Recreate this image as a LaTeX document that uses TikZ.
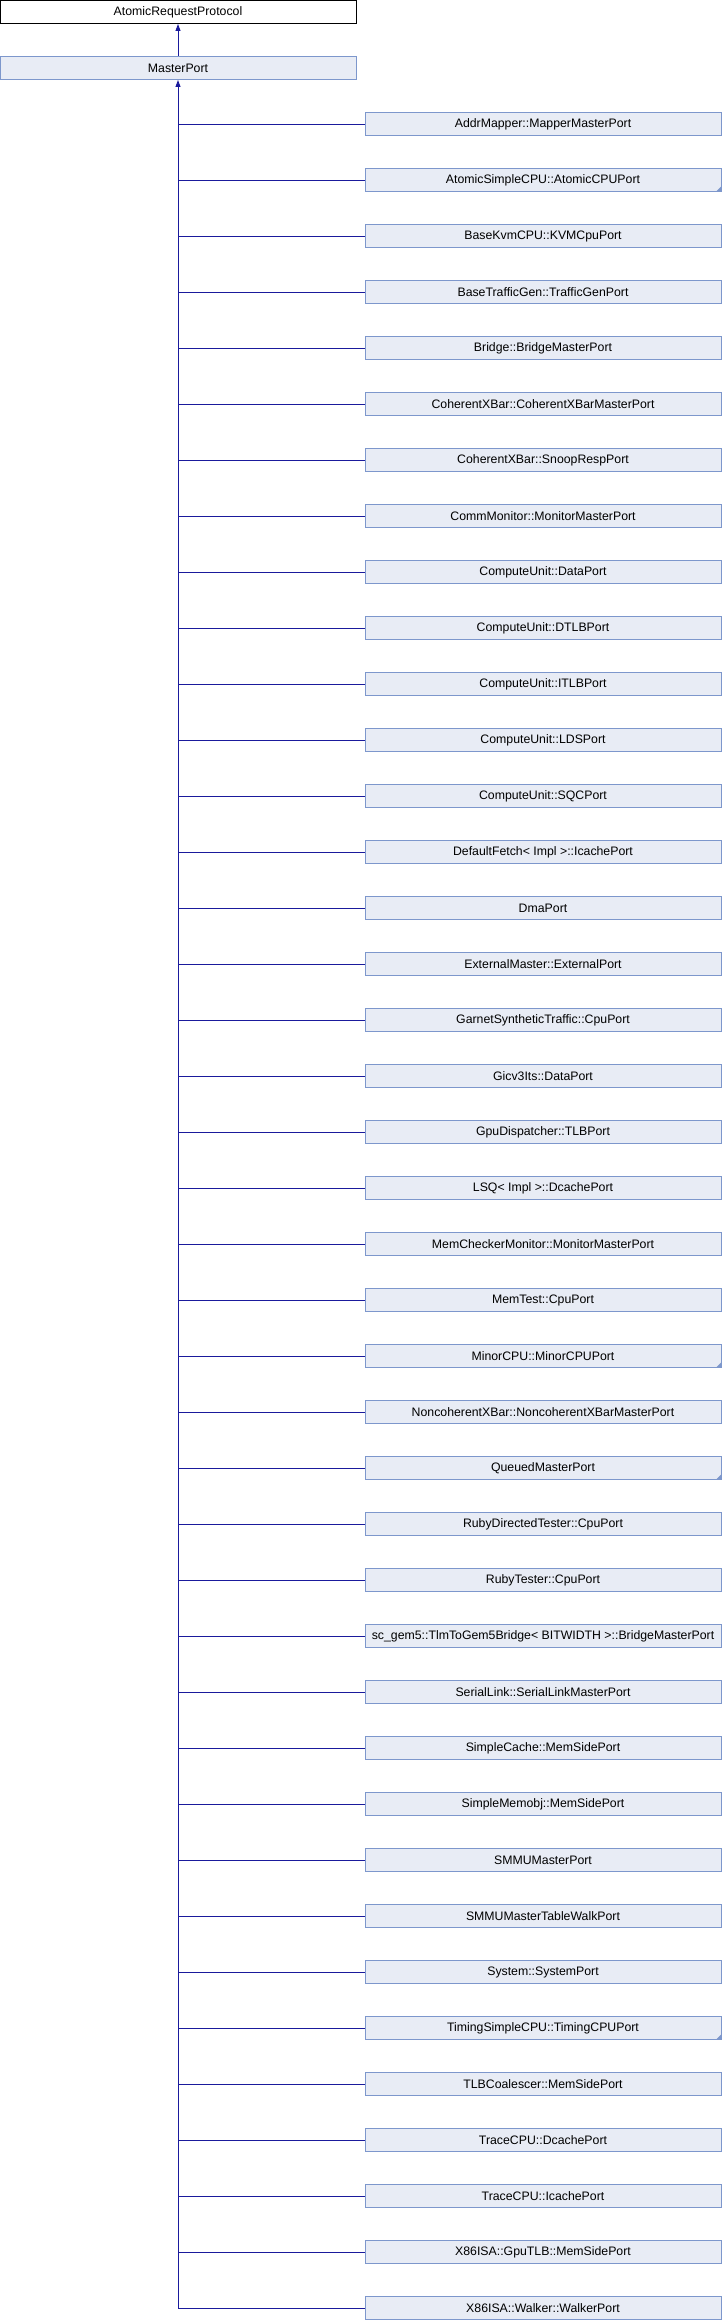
\documentclass[tikz,border=0pt]{standalone}
\usepackage{fontspec}
\setmainfont{Liberation Sans}
\usepackage{xcolor}
\usetikzlibrary{arrows.meta}

\definecolor{boxfill}{HTML}{E8ECF5}
\definecolor{boxline}{HTML}{7D97CC}
\definecolor{edgeblue}{HTML}{1A1A9C}

\begin{document}
\begin{tikzpicture}[
  x=1pt, y=1pt,
  box/.style={
    draw=boxline, fill=boxfill, line width=1pt, rectangle,
    minimum width=356pt, minimum height=23pt,
    font=\fontsize{12.3}{14}\selectfont, inner sep=0pt
  },
  topbox/.style={box, draw=black, fill=white},
  more/.style={box, path picture={
    \fill[boxline] (path picture bounding box.south east)
      -- ++(-5pt,0) -- ++(5pt,5pt) -- cycle;}},
  arr/.style={-{Triangle[width=5pt,length=7pt]}, edgeblue, line width=0.9pt},
  lnk/.style={edgeblue, line width=0.9pt},
]
\useasboundingbox (0,0) rectangle (722,-2320);

\node[topbox] (arp)   at (178, -12) {AtomicRequestProtocol};
\node[box]    (mport) at (178, -68) {MasterPort};

\node[box]  (addr)   at (543, -124) {AddrMapper::MapperMasterPort};
\node[more] (atomic) at (543, -180) {AtomicSimpleCPU::AtomicCPUPort};
\node[box]  (kvm)    at (543, -236) {BaseKvmCPU::KVMCpuPort};
\node[box]  (tgen)   at (543, -292) {BaseTrafficGen::TrafficGenPort};
\node[box]  (bridge) at (543, -348) {Bridge::BridgeMasterPort};
\node[box]  (cxbm)   at (543, -404) {CoherentXBar::CoherentXBarMasterPort};
\node[box]  (snoop)  at (543, -460) {CoherentXBar::SnoopRespPort};
\node[box]  (cmon)   at (543, -516) {CommMonitor::MonitorMasterPort};
\node[box]  (cudata) at (543, -572) {ComputeUnit::DataPort};
\node[box]  (cudtlb) at (543, -628) {ComputeUnit::DTLBPort};
\node[box]  (cuitlb) at (543, -684) {ComputeUnit::ITLBPort};
\node[box]  (culds)  at (543, -740) {ComputeUnit::LDSPort};
\node[box]  (cusqc)  at (543, -796) {ComputeUnit::SQCPort};
\node[box]  (fetch)  at (543, -852) {DefaultFetch< Impl >::IcachePort};
\node[box]  (dma)    at (543, -908) {DmaPort};
\node[box]  (ext)    at (543, -964) {ExternalMaster::ExternalPort};
\node[box]  (garnet) at (543, -1020) {GarnetSyntheticTraffic::CpuPort};
\node[box]  (gicits) at (543, -1076) {Gicv3Its::DataPort};
\node[box]  (gpud)   at (543, -1132) {GpuDispatcher::TLBPort};
\node[box]  (lsq)    at (543, -1188) {LSQ< Impl >::DcachePort};
\node[box]  (mcmon)  at (543, -1244) {MemCheckerMonitor::MonitorMasterPort};
\node[box]  (memtst) at (543, -1300) {MemTest::CpuPort};
\node[more] (minor)  at (543, -1356) {MinorCPU::MinorCPUPort};
\node[box]  (ncxbm)  at (543, -1412) {NoncoherentXBar::NoncoherentXBarMasterPort};
\node[more] (queued) at (543, -1468) {QueuedMasterPort};
\node[box]  (rdtest) at (543, -1524) {RubyDirectedTester::CpuPort};
\node[box]  (rtest)  at (543, -1580) {RubyTester::CpuPort};
\node[box]  (tlm)    at (543, -1636) {sc\_gem5::TlmToGem5Bridge< BITWIDTH >::BridgeMasterPort};
\node[box]  (serial) at (543, -1692) {SerialLink::SerialLinkMasterPort};
\node[box]  (scache) at (543, -1748) {SimpleCache::MemSidePort};
\node[box]  (smemo)  at (543, -1804) {SimpleMemobj::MemSidePort};
\node[box]  (smmu)   at (543, -1860) {SMMUMasterPort};
\node[box]  (smmutw) at (543, -1916) {SMMUMasterTableWalkPort};
\node[box]  (sys)    at (543, -1972) {System::SystemPort};
\node[more] (timing) at (543, -2028) {TimingSimpleCPU::TimingCPUPort};
\node[box]  (tlbc)   at (543, -2084) {TLBCoalescer::MemSidePort};
\node[box]  (trcd)   at (543, -2140) {TraceCPU::DcachePort};
\node[box]  (trci)   at (543, -2196) {TraceCPU::IcachePort};
\node[box]  (gputlb) at (543, -2252) {X86ISA::GpuTLB::MemSidePort};
\node[box]  (walker) at (543, -2308) {X86ISA::Walker::WalkerPort};

\draw[arr] (mport) -- (arp);
\draw[arr] (walker.west) -| (mport.south);

\foreach \n in {addr, atomic, kvm, tgen, bridge, cxbm, snoop, cmon, cudata,
    cudtlb, cuitlb, culds, cusqc, fetch, dma, ext, garnet, gicits, gpud, lsq,
    mcmon, memtst, minor, ncxbm, queued, rdtest, rtest, tlm, serial, scache,
    smemo, smmu, smmutw, sys, timing, tlbc, trcd, trci, gputlb}
  \draw[lnk] (\n.west) -- (\n.west -| mport.south);

\end{tikzpicture}
\end{document}
